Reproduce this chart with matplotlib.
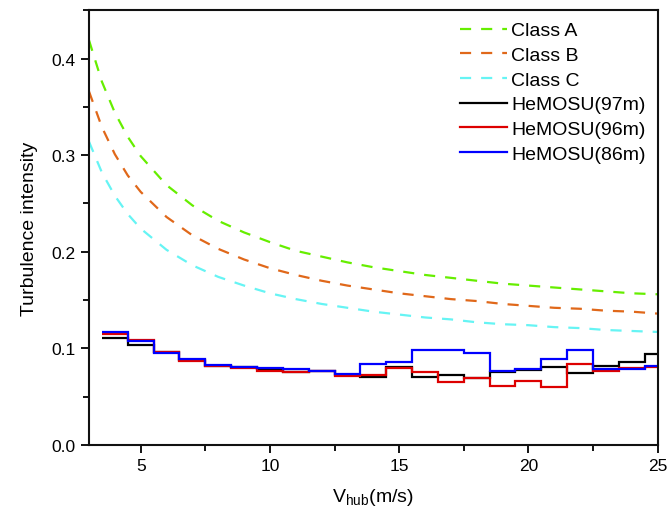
import numpy as np
import matplotlib
matplotlib.use("Agg")
import matplotlib.pyplot as plt
from matplotlib.ticker import MultipleLocator

plt.rcParams['font.family'] = ['Liberation Sans', 'DejaVu Sans']

# IEC class curves
v_class = [3, 3.5, 4, 4.5, 5, 6, 7, 8, 9, 10, 11, 12, 13, 14, 15, 16, 17, 18, 19, 20, 21, 22, 23, 24, 25]
class_a = [0.419, 0.376, 0.344, 0.319, 0.299, 0.269, 0.248, 0.232, 0.220, 0.210, 0.201, 0.195, 0.189,
           0.184, 0.180, 0.176, 0.173, 0.170, 0.167, 0.165, 0.163, 0.161, 0.159, 0.157, 0.156]
class_b = [0.366, 0.329, 0.301, 0.279, 0.262, 0.236, 0.217, 0.203, 0.192, 0.183, 0.176, 0.170, 0.165,
           0.161, 0.157, 0.154, 0.151, 0.149, 0.146, 0.144, 0.142, 0.141, 0.139, 0.138, 0.136]
class_c = [0.314, 0.282, 0.258, 0.239, 0.224, 0.202, 0.186, 0.174, 0.165, 0.157, 0.151, 0.146, 0.142,
           0.138, 0.135, 0.132, 0.130, 0.127, 0.125, 0.124, 0.122, 0.121, 0.119, 0.118, 0.117]

# Measured turbulence intensity per 1 m/s bin (bin centres 4..25)
bin_centres = [4, 5, 6, 7, 8, 9, 10, 11, 12, 13, 14, 15, 16, 17, 18, 19, 20, 21, 22, 23, 24, 25]
hemosu_97 = [0.1112, 0.1040, 0.0960, 0.0880, 0.0822, 0.0805, 0.0785, 0.0760, 0.0767, 0.0729, 0.0701,
             0.0812, 0.0701, 0.0729, 0.0694, 0.0755, 0.0775, 0.0812, 0.0750, 0.0822, 0.0857, 0.0943]
hemosu_96 = [0.1150, 0.1088, 0.0965, 0.0870, 0.0815, 0.0798, 0.0770, 0.0753, 0.0770, 0.0718, 0.0725,
             0.0798, 0.0753, 0.0656, 0.0690, 0.0615, 0.0663, 0.0598, 0.0839, 0.0763, 0.0793, 0.0805]
hemosu_86 = [0.1168, 0.1074, 0.0955, 0.0885, 0.0828, 0.0812, 0.0795, 0.0788, 0.0765, 0.0739, 0.0843,
             0.0863, 0.0984, 0.0980, 0.0953, 0.0763, 0.0791, 0.0891, 0.0984, 0.0788, 0.0788, 0.0815]

fig = plt.figure(figsize=(6.67, 5.10), dpi=100)
ax = fig.add_axes([0.1334, 0.1255, 0.9526 - 0.1334 + 0.0334, 0.978 - 0.1255])

dash = (0, (5, 4.5))
ax.plot(v_class, class_a, color='#66ee00', lw=1.6, ls=dash, label='Class A')
ax.plot(v_class, class_b, color='#e0681a', lw=1.6, ls=dash, label='Class B')
ax.plot(v_class, class_c, color='#66f4f4', lw=1.6, ls=dash, label='Class C')

edges = np.concatenate([np.array(bin_centres, float) - 0.5, [bin_centres[-1] + 0.5]])
ax.stairs(hemosu_97, edges, baseline=None, color='black', lw=1.6, label='HeMOSU(97m)')
ax.stairs(hemosu_96, edges, baseline=None, color='#dd0000', lw=1.6, label='HeMOSU(96m)')
ax.stairs(hemosu_86, edges, baseline=None, color='#0000ff', lw=1.6, label='HeMOSU(86m)')

ax.set_xlim(3, 25)
ax.set_ylim(0, 0.45)
ax.xaxis.set_major_locator(MultipleLocator(5))
ax.xaxis.set_minor_locator(MultipleLocator(2.5))
ax.yaxis.set_major_locator(MultipleLocator(0.1))
ax.yaxis.set_minor_locator(MultipleLocator(0.05))
ax.yaxis.set_major_formatter(matplotlib.ticker.FormatStrFormatter('%.1f'))
ax.tick_params(which='both', direction='out', top=False, right=False, labelsize=12.5, width=1.3)
ax.tick_params(which='major', length=6)
ax.tick_params(which='minor', length=4)
for s in ax.spines.values():
    s.set_linewidth(1.5)
    s.set_color('#111111')

ax.set_ylabel('Turbulence intensity', fontsize=14, labelpad=10)
ax.set_xlabel(r'V$_{\mathregular{hub}}$(m/s)', fontsize=14, labelpad=9)

leg = ax.legend(loc='upper right', frameon=False, fontsize=14, handlelength=2.4,
                handletextpad=0.25, labelspacing=0.36, borderaxespad=0.2,
                bbox_to_anchor=(1.0, 1.0))

fig.savefig('out.png', dpi=100)
